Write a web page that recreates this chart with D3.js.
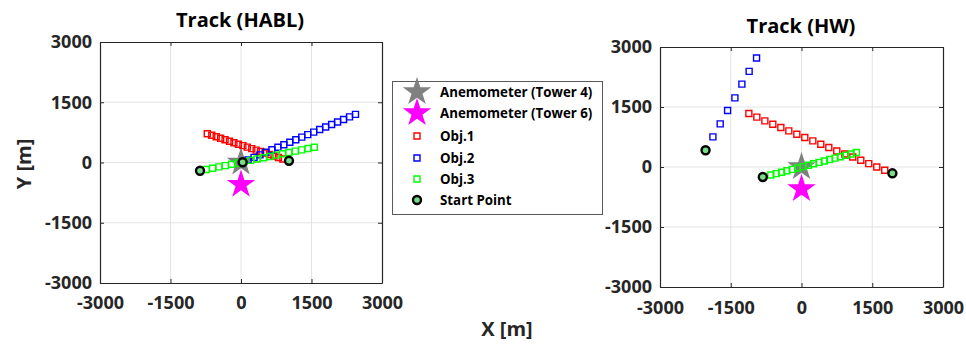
<!DOCTYPE html>
<html>
<head>
<meta charset="utf-8">
<script src="https://cdn.jsdelivr.net/npm/d3@7"></script>
<style>
  body { margin: 0; background: #fff; }
  svg text { font-family: "Open Sans", sans-serif; font-weight: bold; }
</style>
</head>
<body>
<svg id="chart" width="966" height="345"></svg>
<script>
// axis ticks, same on both panels (m)
const TICKS = [-3000, -1500, 0, 1500, 3000];

// anemometer positions [x, y] (m)
const TOWER4 = [0, 0];
const TOWER6 = [0, -550];

// ---- Track (HABL) ----
const HABL_OBJ1_X = [-717, -622, -528, -433, -339, -244, -150, -55, 40, 134, 229, 323, 418, 512, 607, 701, 796, 890];
const HABL_OBJ1_Y = [714, 677, 640, 603, 567, 530, 493, 456, 419, 382, 346, 309, 272, 235, 198, 162, 125, 88];
const HABL_OBJ2_X = [150, 277, 404, 531, 658, 785, 912, 1039, 1166, 1293, 1420, 1547, 1674, 1801, 1928, 2055, 2182, 2309, 2436];
const HABL_OBJ2_Y = [65, 128, 191, 254, 316, 379, 442, 505, 568, 631, 694, 757, 820, 883, 946, 1009, 1072, 1135, 1198];
const HABL_OBJ3_X = [-740, -605, -469, -334, -199, -63, 72, 207, 342, 478, 613, 748, 884, 1019, 1154, 1290, 1425, 1560];
const HABL_OBJ3_Y = [-175, -142, -110, -77, -44, -12, 21, 54, 86, 119, 151, 184, 217, 249, 282, 315, 347, 380];
const HABL_START_X = [1021, 35, -872];
const HABL_START_Y = [42, 7, -206];

// ---- Track (HW) ----
const HW_OBJ1_X = [-1116, -947, -777, -608, -438, -269, -99, 70, 240, 409, 579, 748, 918, 1087, 1257, 1426, 1596, 1765];
const HW_OBJ1_Y = [1338, 1246, 1153, 1070, 988, 902, 820, 737, 652, 569, 486, 401, 326, 251, 168, 85, 0, -83];
const HW_OBJ2_X = [-1878, -1724, -1567, -1412, -1264, -1110, -953];
const HW_OBJ2_Y = [752, 1078, 1414, 1729, 2073, 2391, 2724];
const HW_OBJ3_X = [-650, -537, -423, -310, -197, -83, 30, 144, 257, 371, 484, 597, 711, 824, 937, 1051, 1164];
const HW_OBJ3_Y = [-200, -165, -130, -95, -60, -25, 10, 45, 81, 116, 151, 186, 221, 256, 291, 326, 361];
const HW_START_X = [1927, -2034, -820];
const HW_START_Y = [-158, 418, -250];

const LEGEND_LABELS = ["Anemometer (Tower 4)", "Anemometer (Tower 6)", "Obj.1", "Obj.2", "Obj.3", "Start Point"];

const AX_COLOR = "#262626";
const OBJ_COLORS = ["#ff0000", "#0000ff", "#00ff00"];
const START_FILL = "#77dd88";
const STAR_SIZE = 252;   // d3 symbol area -> outer radius ~15px
const SQ_SIZE = 36;

const svg = d3.select("#chart");

const zip = (xs, ys) => xs.map((x, i) => [x, ys[i]]);
const fmt = d => String(d);   // plain hyphen minus, no thousands comma

function drawPanel(p) {
  const x = d3.scaleLinear().domain([-3000, 3000]).range([p.left, p.right]);
  const y = d3.scaleLinear().domain([-3000, 3000]).range([p.bottom, p.top]);
  const g = svg.append("g");

  // grid
  g.append("g").selectAll("line").data(TICKS.slice(1, -1)).join("line")
    .attr("x1", d => x(d)).attr("x2", d => x(d))
    .attr("y1", p.top).attr("y2", p.bottom)
    .attr("stroke", "#e3e3e3").attr("stroke-width", 1);
  g.append("g").selectAll("line").data(TICKS.slice(1, -1)).join("line")
    .attr("y1", d => y(d)).attr("y2", d => y(d))
    .attr("x1", p.left).attr("x2", p.right)
    .attr("stroke", "#e3e3e3").attr("stroke-width", 1);

  // anemometers
  g.append("path")
    .attr("d", d3.symbol(d3.symbolStar, STAR_SIZE)())
    .attr("transform", `translate(${x(TOWER4[0])},${y(TOWER4[1])})`)
    .attr("fill", "#808080");
  g.append("path")
    .attr("d", d3.symbol(d3.symbolStar, STAR_SIZE)())
    .attr("transform", `translate(${x(TOWER6[0])},${y(TOWER6[1])})`)
    .attr("fill", "#ff00ff");

  // objects
  p.objs.forEach((pts, i) => {
    g.append("g").selectAll("path").data(pts).join("path")
      .attr("d", d3.symbol(d3.symbolSquare, SQ_SIZE)())
      .attr("transform", d => `translate(${x(d[0])},${y(d[1])})`)
      .attr("fill", "none")
      .attr("stroke", OBJ_COLORS[i])
      .attr("stroke-width", 1.4);
  });

  // start points
  g.append("g").selectAll("circle").data(p.starts).join("circle")
    .attr("cx", d => x(d[0])).attr("cy", d => y(d[1]))
    .attr("r", 4)
    .attr("fill", START_FILL)
    .attr("stroke", "#000")
    .attr("stroke-width", 2.4);

  // axes (ticks pointing inward, MATLAB style)
  const styleAxis = sel => {
    sel.selectAll("path, line").attr("stroke", AX_COLOR);
    sel.selectAll("text").attr("fill", AX_COLOR).attr("font-size", 18);
  };
  g.append("g").attr("transform", `translate(0,${p.bottom})`)
    .call(d3.axisBottom(x).tickValues(TICKS).tickFormat(fmt).tickSizeInner(-4).tickSizeOuter(0).tickPadding(p.xPad))
    .call(styleAxis);
  g.append("g").attr("transform", `translate(${p.left},0)`)
    .call(d3.axisLeft(y).tickValues(TICKS).tickFormat(fmt).tickSizeInner(-4).tickSizeOuter(0).tickPadding(8))
    .call(styleAxis);
  g.append("g").attr("transform", `translate(0,${p.top})`)
    .call(d3.axisTop(x).tickValues(TICKS).tickSizeInner(-4).tickSizeOuter(0).tickFormat(""))
    .call(styleAxis);
  g.append("g").attr("transform", `translate(${p.right},0)`)
    .call(d3.axisRight(y).tickValues(TICKS).tickSizeInner(-4).tickSizeOuter(0).tickFormat(""))
    .call(styleAxis);
  g.selectAll(".domain").attr("stroke-width", 1.2);

  // title
  g.append("text")
    .attr("x", p.titleX).attr("y", p.titleY)
    .attr("text-anchor", "middle")
    .attr("font-size", 20)
    .attr("fill", "#000")
    .text(p.title);
}

drawPanel({
  left: 100, right: 382, top: 42, bottom: 283, xPad: 13.5,
  title: "Track (HABL)", titleX: 240, titleY: 27,
  objs: [zip(HABL_OBJ1_X, HABL_OBJ1_Y), zip(HABL_OBJ2_X, HABL_OBJ2_Y), zip(HABL_OBJ3_X, HABL_OBJ3_Y)],
  starts: zip(HABL_START_X, HABL_START_Y)
});

drawPanel({
  left: 660, right: 943, top: 47, bottom: 287, xPad: 14.5,
  title: "Track (HW)", titleX: 801, titleY: 33,
  objs: [zip(HW_OBJ1_X, HW_OBJ1_Y), zip(HW_OBJ2_X, HW_OBJ2_Y), zip(HW_OBJ3_X, HW_OBJ3_Y)],
  starts: zip(HW_START_X, HW_START_Y)
});

// axis labels
svg.append("text")
  .attr("transform", "translate(31,164) rotate(-90)")
  .attr("text-anchor", "middle")
  .attr("font-size", 20)
  .attr("fill", AX_COLOR)
  .text("Y [m]");
svg.append("text")
  .attr("x", 507).attr("y", 336)
  .attr("text-anchor", "middle")
  .attr("font-size", 20)
  .attr("fill", AX_COLOR)
  .text("X [m]");

// legend
const leg = svg.append("g");
leg.append("rect")
  .attr("x", 392.5).attr("y", 81.5).attr("width", 210).attr("height", 133)
  .attr("fill", "#fff").attr("stroke", "#5a5a5a").attr("stroke-width", 1);
const rowY = [92, 113, 136, 158, 179, 200];
const symX = 417;
leg.append("path")
  .attr("d", d3.symbol(d3.symbolStar, STAR_SIZE)())
  .attr("transform", `translate(${symX},${rowY[0]})`).attr("fill", "#808080");
leg.append("path")
  .attr("d", d3.symbol(d3.symbolStar, STAR_SIZE)())
  .attr("transform", `translate(${symX},${rowY[1]})`).attr("fill", "#ff00ff");
OBJ_COLORS.forEach((c, i) => {
  leg.append("path")
    .attr("d", d3.symbol(d3.symbolSquare, SQ_SIZE)())
    .attr("transform", `translate(${symX},${rowY[i + 2]})`)
    .attr("fill", "none").attr("stroke", c).attr("stroke-width", 1.4);
});
leg.append("circle")
  .attr("cx", symX).attr("cy", rowY[5]).attr("r", 4)
  .attr("fill", START_FILL).attr("stroke", "#000").attr("stroke-width", 2.4);
leg.selectAll("text.lbl").data(LEGEND_LABELS).join("text")
  .attr("class", "lbl")
  .attr("x", 440).attr("y", (d, i) => rowY[i] + 5)
  .attr("font-size", 13.3)
  .attr("fill", "#000")
  .text(d => d);
</script>
</body>
</html>
